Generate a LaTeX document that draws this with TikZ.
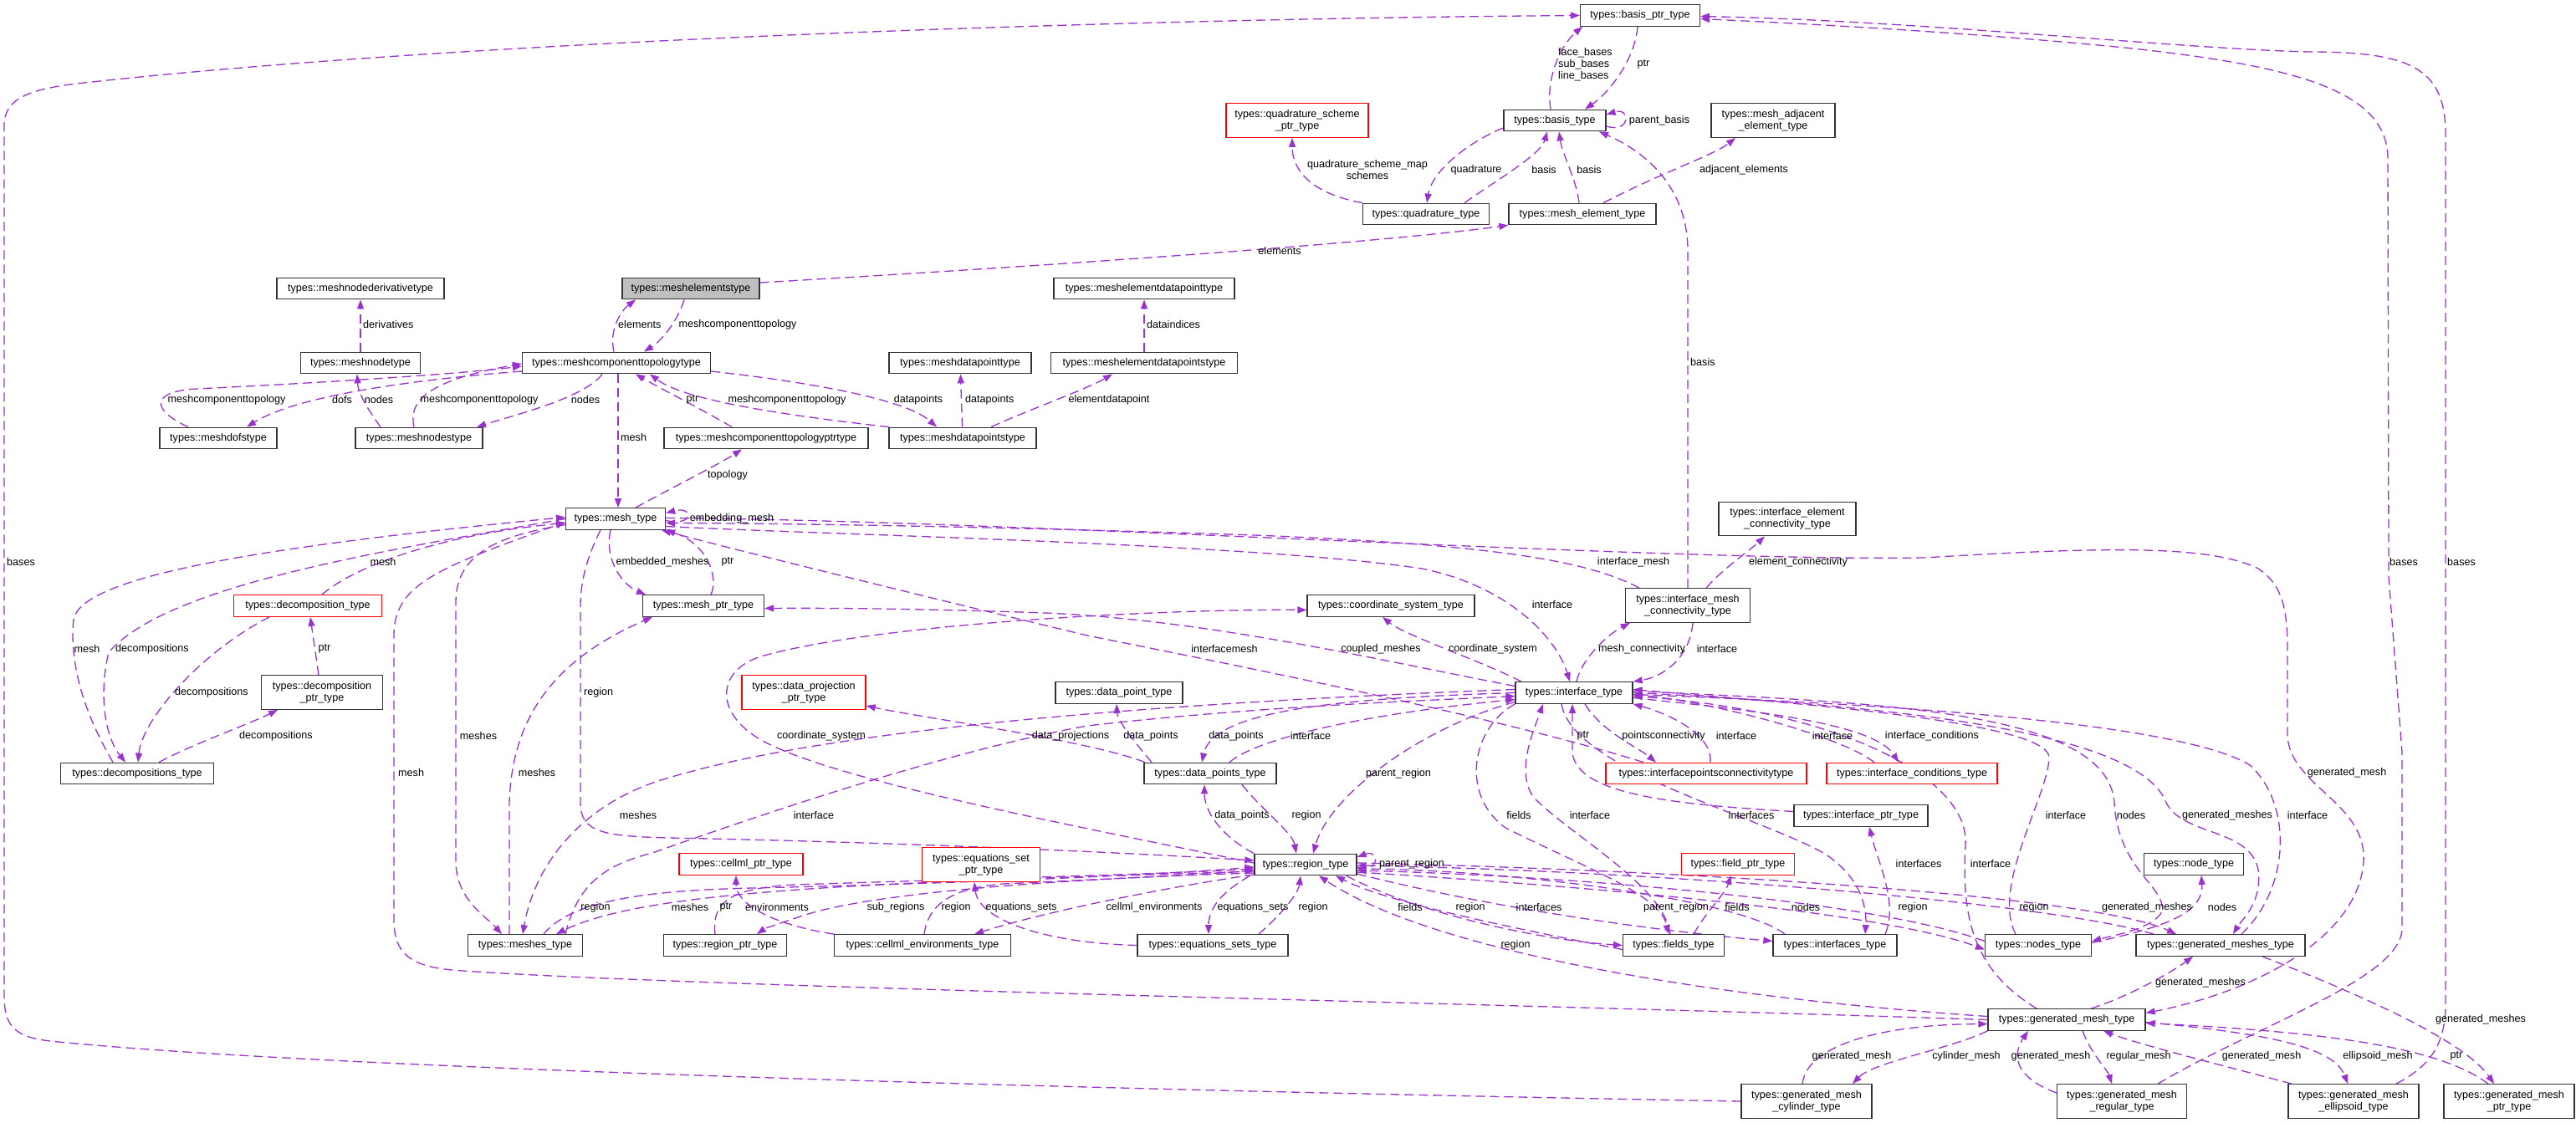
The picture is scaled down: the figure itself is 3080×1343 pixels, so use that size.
\documentclass[tikz,border=0pt]{standalone}
\usepackage{fontspec}
\setmainfont{Liberation Sans}
\usetikzlibrary{arrows.meta, backgrounds}
\definecolor{edgecol}{HTML}{9A32CD}
\definecolor{boxgray}{HTML}{BFBFBF}
\newcommand\dxfont{\fontsize{12.6}{14.3}\selectfont}

\begin{document}
\begin{tikzpicture}[x=1pt, y=-1pt,
  cls/.style={draw=black!80, line width=1.3pt, rectangle, fill=white, minimum height=25.5pt, inner xsep=6pt, inner ysep=2pt, align=center, font=\dxfont},
  cls2/.style={cls, minimum height=40.5pt},
  redbox/.style={draw=red},
  rel/.style={draw=edgecol, line width=1.3pt, dash pattern=on 11pt off 6pt, -{Triangle[length=11pt,width=8pt]}},
  lab/.style={font=\dxfont, inner sep=0pt}]
\useasboundingbox (0,0) rectangle (3080,1343);

\node[cls, minimum width=143] (bptr) at (1961,18.5) {types::basis\_ptr\_type};
\node[cls, minimum width=122] (basis) at (1859,144) {types::basis\_type};
\node[cls2, redbox, minimum width=170] (qsptr) at (1551,144) {types::quadrature\_scheme\\\_ptr\_type};
\node[cls2, minimum width=148] (madj) at (2120,144) {types::mesh\_adjacent\\\_element\_type};
\node[cls, minimum width=151] (quad) at (1705,256) {types::quadrature\_type};
\node[cls, minimum width=176] (melem) at (1892,256) {types::mesh\_element\_type};
\node[cls, fill=boxgray, minimum width=164] (mels) at (826,345) {types::meshelementstype};
\node[cls, minimum width=200] (mnderiv) at (431,345) {types::meshnodederivativetype};
\node[cls, minimum width=216] (medpt) at (1368,345) {types::meshelementdatapointtype};
\node[cls, minimum width=143] (mnode) at (431,434) {types::meshnodetype};
\node[cls, minimum width=225] (mct) at (737,434) {types::meshcomponenttopologytype};
\node[cls, minimum width=170] (mdpt) at (1148,434) {types::meshdatapointtype};
\node[cls, minimum width=223] (medps) at (1368,434) {types::meshelementdatapointstype};
\node[cls, minimum width=140] (mdofs) at (261,524) {types::meshdofstype};
\node[cls, minimum width=152] (mnodes) at (501,524) {types::meshnodestype};
\node[cls, minimum width=244] (mctptr) at (916,524) {types::meshcomponenttopologyptrtype};
\node[cls, minimum width=176] (mdps) at (1151,524) {types::meshdatapointstype};
\node[cls, minimum width=119] (mesh) at (736,620.5) {types::mesh\_type};
\node[cls2, minimum width=164] (iect) at (2137,620.5) {types::interface\_element\\\_connectivity\_type};
\node[cls, redbox, minimum width=177] (dcmp) at (368,724.5) {types::decomposition\_type};
\node[cls, minimum width=145] (meshptr) at (841,724.5) {types::mesh\_ptr\_type};
\node[cls, minimum width=200] (csys) at (1663,724.5) {types::coordinate\_system\_type};
\node[cls2, minimum width=149] (imct) at (2018,724) {types::interface\_mesh\\\_connectivity\_type};
\node[cls2, minimum width=145] (dcmpptr) at (385,828) {types::decomposition\\\_ptr\_type};
\node[cls2, redbox, minimum width=148] (dproj) at (961,828) {types::data\_projection\\\_ptr\_type};
\node[cls, minimum width=152] (dpoint) at (1338,828.5) {types::data\_point\_type};
\node[cls, minimum width=140] (iface) at (1882,828.5) {types::interface\_type};
\node[cls, minimum width=183] (dcmps) at (164,925) {types::decompositions\_type};
\node[cls, minimum width=158] (dpoints) at (1447,925) {types::data\_points\_type};
\node[cls, redbox, minimum width=240] (ipconn) at (2040,925) {types::interfacepointsconnectivitytype};
\node[cls, redbox, minimum width=204] (icond) at (2286,925) {types::interface\_conditions\_type};
\node[cls, minimum width=160] (iptr) at (2225,975.5) {types::interface\_ptr\_type};
\node[cls, redbox, minimum width=148] (cellptr) at (886,1033.5) {types::cellml\_ptr\_type};
\node[cls2, redbox, minimum width=141] (eqsptr) at (1173,1034) {types::equations\_set\\\_ptr\_type};
\node[cls, minimum width=122] (region) at (1561,1034) {types::region\_type};
\node[cls, redbox, minimum width=135] (fptr) at (2078,1033.5) {types::field\_ptr\_type};
\node[cls, minimum width=119] (ndt) at (2623,1033.5) {types::node\_type};
\node[cls, minimum width=137] (meshes) at (628,1130.5) {types::meshes\_type};
\node[cls, minimum width=147] (regptr) at (867,1130.5) {types::region\_ptr\_type};
\node[cls, minimum width=211] (cellenv) at (1103,1130.5) {types::cellml\_environments\_type};
\node[cls, minimum width=180] (eqsets) at (1450,1130.5) {types::equations\_sets\_type};
\node[cls, minimum width=121] (fields) at (2001,1130.5) {types::fields\_type};
\node[cls, minimum width=148] (ifaces) at (2194,1130.5) {types::interfaces\_type};
\node[cls, minimum width=127] (nodes) at (2437,1130.5) {types::nodes\_type};
\node[cls, minimum width=202] (gmeshes) at (2655,1130.5) {types::generated\_meshes\_type};
\node[cls, minimum width=188] (gmesh) at (2471,1219.5) {types::generated\_mesh\_type};
\node[cls2, minimum width=156] (gcyl) at (2160,1317) {types::generated\_mesh\\\_cylinder\_type};
\node[cls2, minimum width=155] (greg) at (2537,1317) {types::generated\_mesh\\\_regular\_type};
\node[cls2, minimum width=156] (gell) at (2814,1317) {types::generated\_mesh\\\_ellipsoid\_type};
\node[cls2, minimum width=156] (gmptr) at (3000,1317) {types::generated\_mesh\\\_ptr\_type};

\begin{scope}[on background layer]
\fill[white] (0,0) rectangle (3080,1343);
\draw[rel] ([xshift=-5]basis.north) .. controls (1848,95) and (1865,55) .. ([xshift=-69]bptr.south);
\draw[rel] ([xshift=-3]bptr.south) .. controls (1955,70) and (1925,110) .. ([xshift=36]basis.north);
\draw[rel] ([yshift=-7]basis.east) .. controls (1950,160) and (1950,128) .. ([yshift=7]basis.east);
\draw[rel] ([xshift=46]quad.north) .. controls (1790,215) and (1842,185) .. ([xshift=-9]basis.south);
\draw[rel] ([yshift=-9]basis.west) .. controls (1755,170) and (1712,205) .. ([xshift=1]quad.north);
\draw[rel] ([xshift=-4]melem.north) .. controls (1885,215) and (1868,185) .. ([xshift=5]basis.south);
\draw[rel] (quad.north west) .. controls (1570,232) and (1545,205) .. ([xshift=-6]qsptr.south);
\draw[rel] ([xshift=25]melem.north) .. controls (1990,205) and (2050,185) .. ([xshift=-45]madj.south);
\draw[rel] (imct.north) -- (2018,300) .. controls (2018,230) and (1975,185) .. ([xshift=53]basis.south);
\draw[rel] ([yshift=7]mels.east) .. controls (1300,315) and (1650,290) .. (melem.south west);
\draw[rel] (gcyl.west) .. controls (1400,1305) and (400,1280) .. (60,1245) .. controls (15,1240) and (5,1225) .. (5,1190) -- (5,150) .. controls (5,115) and (40,105) .. (110,98) .. controls (600,45) and (1400,22) .. (bptr.west);
\draw[rel] ([xshift=43]greg.north) .. controls (2700,1225) and (2872,1170) .. (2872,1110) -- (2872,900) -- (2856,690) -- (2855,190) .. controls (2855,110) and (2750,80) .. (2550,58) .. controls (2350,38) and (2150,28) .. ([yshift=-4]bptr.east);
\draw[rel] ([xshift=51]gell.north) .. controls (2905,1275) and (2924,1250) .. (2924,1200) -- (2924,160) .. controls (2924,80) and (2880,62) .. (2760,62) .. controls (2600,58) and (2300,25) .. ([yshift=-1]bptr.east);

\draw[rel] (mnode) -- (mnderiv);
\draw[rel] ([xshift=-3]mct.north) .. controls (728,395) and (742,372) .. ([xshift=-66]mels.south);
\draw[rel] ([xshift=-8]mels.south) .. controls (810,385) and (790,408) .. ([xshift=33]mct.north);
\draw[rel] (medps) -- (medpt);
\draw[rel] ([yshift=-10]mct.west) .. controls (520,452) and (360,470) .. ([xshift=34]mdofs.north);
\draw[rel] ([xshift=-36]mdofs.north) .. controls (180,490) and (180,468) .. (235,465) .. controls (400,457) and (550,447) .. ([yshift=-4]mct.west);
\draw[rel] ([xshift=-46]mnodes.north) .. controls (440,490) and (428,470) .. ([xshift=-4]mnode.south);
\draw[rel] ([xshift=-6]mnodes.north) .. controls (488,480) and (510,455) .. ([yshift=-1]mct.west);
\draw[rel] ([xshift=-17]mct.south) .. controls (700,475) and (620,495) .. ([xshift=69]mnodes.north);
\draw[rel] ([xshift=2]mct.south) -- ([xshift=3]mesh.north);
\draw[rel] ([xshift=-41]mctptr.north) .. controls (840,490) and (785,462) .. ([xshift=23]mct.south);
\draw[rel] ([xshift=-88]mdps.north) .. controls (950,498) and (820,480) .. ([xshift=40]mct.south);
\draw[rel] ([yshift=-10]mct.east) .. controls (950,455) and (1080,475) .. ([xshift=-31]mdps.north);
\draw[rel] (mdps) -- (mdpt);
\draw[rel] ([xshift=34]mdps.north) .. controls (1230,490) and (1300,465) .. ([xshift=-38]medps.south);
\draw[rel] ([xshift=24]mesh.north) .. controls (800,585) and (860,555) .. ([xshift=-29]mctptr.south);
\draw[rel] ([yshift=-2]mesh.east) .. controls (830,630) and (830,605) .. ([yshift=7]mesh.east);
\draw[rel] ([xshift=-6]mesh.south) .. controls (722,670) and (745,700) .. ([xshift=-69]meshptr.north);
\draw[rel] ([xshift=9]meshptr.north) .. controls (860,690) and (845,650) .. (mesh.south east);
\draw[rel] ([xshift=17]dcmp.north) .. controls (420,680) and (520,640) .. ([yshift=-5]mesh.west);
\draw[rel] ([xshift=-29]dcmps.north) .. controls (105,860) and (82,800) .. (88,740) .. controls (100,690) and (300,655) .. ([yshift=2]mesh.west);
\draw[rel] (mesh.west) .. controls (450,660) and (200,700) .. (130,780) .. controls (118,830) and (125,880) .. ([xshift=-14]dcmps.north);
\draw[rel] ([xshift=-46]dcmp.south) .. controls (240,780) and (170,860) .. ([xshift=1]dcmps.north);
\draw[rel] ([xshift=-4]dcmpptr.north) -- ([xshift=3]dcmp.south);
\draw[rel] ([xshift=26]dcmps.north) .. controls (230,890) and (300,865) .. ([xshift=-53]dcmpptr.south);
\draw[rel] ([yshift=-7]mesh.west) .. controls (600,640) and (545,660) .. (545,720) -- (545,1030) .. controls (545,1075) and (580,1095) .. ([xshift=-28]meshes.north);
\draw[rel] (gmesh.west) .. controls (1800,1200) and (800,1180) .. (540,1160) .. controls (490,1155) and (471,1140) .. (471,1100) -- (471,760) .. controls (471,700) and (520,680) .. ([yshift=-4]mesh.west);
\draw[rel] ([xshift=-19]meshes.north) -- (609,960) .. controls (612,860) and (660,790) .. ([xshift=-61]meshptr.south);
\draw[rel] ([xshift=-18]mesh.south) .. controls (705,660) and (694,690) .. (694,725) -- (694,960) .. controls (694,995) and (720,1000) .. (800,1002) .. controls (1100,1008) and (1350,1020) .. ([yshift=5]region.west);

\draw[rel] ([yshift=-8]region.west) .. controls (1100,1055) and (780,1060) .. ([xshift=37]meshes.north);
\draw[rel] ([xshift=22]meshes.north) .. controls (680,1080) and (760,1065) .. (900,1062) .. controls (1200,1055) and (1400,1045) .. ([yshift=-3]region.west);
\draw[rel] ([xshift=48]meshes.north) .. controls (690,1060) and (720,1035) .. (780,1020) .. controls (950,960) and (1150,895) .. (1300,868) .. controls (1500,845) and (1700,838) .. ([yshift=-4]iface.west);
\draw[rel] ([yshift=4]iface.west) .. controls (1400,840) and (1000,870) .. (800,930) .. controls (700,958) and (640,1030) .. ([xshift=-3]meshes.north);
\draw[rel] ([xshift=-12]regptr.north) .. controls (850,1075) and (880,1062) .. (950,1058) .. controls (1200,1050) and (1400,1045) .. ([yshift=-5]region.west);
\draw[rel] (cellenv.north west) .. controls (920,1105) and (880,1080) .. ([xshift=-6]cellptr.south);
\draw[rel] ([yshift=-10]region.west) .. controls (1300,1050) and (1050,1065) .. (960,1095) .. controls (930,1105) and (915,1110) .. ([xshift=38]regptr.north);
\draw[rel] ([xshift=2]cellenv.north) .. controls (1110,1080) and (1140,1062) .. (1200,1057) .. controls (1350,1050) and (1450,1045) .. ([yshift=-7]region.west);
\draw[rel] (eqsets.west) .. controls (1250,1128) and (1170,1100) .. ([xshift=-8]eqsptr.south);
\draw[rel] ([yshift=-12]region.west) .. controls (1400,1060) and (1250,1090) .. ([xshift=62]cellenv.north);
\draw[rel] ([xshift=-5]region.south west) .. controls (1455,1070) and (1445,1090) .. ([xshift=-5]eqsets.north);
\draw[rel] ([xshift=55]eqsets.north) .. controls (1530,1095) and (1552,1070) .. ([xshift=-6]region.south);
\draw[rel] ([xshift=49]region.south) .. controls (1700,1095) and (1850,1125) .. (fields.west);
\draw[rel] ([yshift=-5]fields.west) .. controls (1820,1112) and (1660,1080) .. ([xshift=36]region.south);
\draw[rel] ([yshift=-11]region.east) .. controls (1800,1090) and (2000,1115) .. ([yshift=5]ifaces.west);
\draw[rel] ([xshift=-60]ifaces.north) .. controls (2080,1075) and (1800,1040) .. ([yshift=-5]region.east);
\draw[rel] ([xshift=24]fields.north) .. controls (2040,1090) and (2062,1070) .. ([xshift=-8]fptr.south);
\draw[rel] ([xshift=-4]fields.north) .. controls (1990,1060) and (1880,1000) .. (1835,955) .. controls (1810,925) and (1835,870) .. ([xshift=-37]iface.south);
\draw[rel] (iface.south west) .. controls (1760,870) and (1745,950) .. (1800,990) .. controls (1900,1040) and (1985,1070) .. ([xshift=-6]fields.north);
\draw[rel] ([xshift=-15]iface.south) .. controls (1880,920) and (2100,975) .. (2180,1020) .. controls (2228,1050) and (2232,1090) .. ([xshift=36]ifaces.north);
\draw[rel] ([xshift=60]ifaces.north) .. controls (2270,1080) and (2245,1030) .. ([xshift=10]iptr.south);
\draw[rel] ([yshift=5]iptr.west) .. controls (2000,962) and (1885,950) .. (1880,900) -- ([xshift=-2]iface.south);
\draw[rel] ([xshift=13]iface.south) .. controls (1915,875) and (1960,895) .. ([xshift=-60]ipconn.north);
\draw[rel] ([xshift=5]ipconn.north) .. controls (2048,880) and (2000,855) .. (iface.south east);
\draw[rel] ([yshift=-6]iface.east) .. controls (2100,850) and (2240,865) .. ([xshift=-16]icond.north);
\draw[rel] ([xshift=-45]icond.north) .. controls (2200,880) and (2050,840) .. ([yshift=-2]iface.east);
\draw[rel] ([xshift=23]dpoints.north) .. controls (1500,885) and (1620,855) .. ([yshift=-8]iface.west);
\draw[rel] (iface.west) .. controls (1600,835) and (1450,850) .. ([xshift=-10]dpoints.north);
\draw[rel] ([xshift=-70]dpoints.north) .. controls (1350,880) and (1336,860) .. ([xshift=-3]dpoint.south);
\draw[rel] ([xshift=-78]dpoints.north) .. controls (1300,885) and (1100,858) .. ([yshift=-16]dproj.east);
\draw[rel] (region.north west) .. controls (1460,1000) and (1440,970) .. ([xshift=-7]dpoints.south);
\draw[rel] ([xshift=38]dpoints.south) .. controls (1510,970) and (1545,995) .. ([xshift=-11]region.north);
\draw[rel] ([yshift=-11]iface.west) .. controls (1700,870) and (1590,950) .. ([xshift=9]region.north);
\draw[rel] ([yshift=-3]region.east) .. controls (1650,1045) and (1650,1015) .. ([yshift=9]region.east);
\draw[rel] ([yshift=2]region.west) .. controls (1300,990) and (1000,935) .. (910,885) .. controls (850,850) and (860,800) .. (910,785) .. controls (1050,745) and (1400,728) .. ([yshift=-5]csys.west);
\draw[rel] ([xshift=-63]iface.north) .. controls (1770,790) and (1680,760) .. ([xshift=-10]csys.south);
\draw[rel] ([yshift=8]iface.west) .. controls (1650,790) and (1450,742) .. (1250,733) .. controls (1100,728) and (1000,727) .. ([yshift=-3]meshptr.east);
\draw[rel] ([xshift=-75]ipconn.north) .. controls (1800,860) and (1500,800) .. (1300,760) .. controls (1050,700) and (850,650) .. ([xshift=55]mesh.south);
\draw[rel] ([yshift=-9]mesh.east) .. controls (1000,640) and (1500,650) .. (1700,680) .. controls (1800,700) and (1860,760) .. ([xshift=-5]iface.north);
\draw[rel] ([xshift=-58]imct.north) .. controls (1900,672) and (1800,652) .. (1500,640) .. controls (1200,630) and (950,626) .. ([yshift=-5]mesh.east);
\draw[rel] ([yshift=1]mesh.east) .. controls (1200,622) and (2000,672) .. (2300,667) .. controls (2500,655) and (2640,650) .. (2700,680) .. controls (2730,700) and (2735,730) .. (2735,780) -- (2735,880) .. controls (2738,940) and (2830,960) .. (2826,1030) .. controls (2820,1120) and (2700,1185) .. ([yshift=8]gmesh.east);
\draw[rel] ([xshift=22]imct.north) .. controls (2060,680) and (2090,660) .. ([xshift=-27]iect.south);
\draw[rel] ([xshift=3]iface.north) .. controls (1890,790) and (1920,760) .. ([xshift=6]imct.south west);
\draw[rel] ([xshift=6]imct.south) .. controls (2020,790) and (1985,810) .. (iface.north east);

\draw[rel] ([xshift=-27]nodes.north) .. controls (2380,1060) and (2450,950) .. (2450,905) .. controls (2445,860) and (2100,838) .. ([yshift=4]iface.east);
\draw[rel] ([yshift=2]iface.east) .. controls (2250,840) and (2520,850) .. (2528,960) .. controls (2532,1040) and (2590,1060) .. (2585,1090) .. controls (2575,1110) and (2530,1118) .. ([yshift=5]nodes.east);
\draw[rel] (iface.east) .. controls (2300,845) and (2560,880) .. (2590,960) .. controls (2610,1000) and (2690,990) .. (2700,1040) .. controls (2705,1080) and (2680,1100) .. ([xshift=15]gmeshes.north);
\draw[rel] ([xshift=25]gmeshes.north) .. controls (2740,1060) and (2740,960) .. (2690,915) .. controls (2600,860) and (2200,840) .. ([yshift=-2]iface.east);
\draw[rel] ([xshift=-36]gmesh.north) .. controls (2360,1160) and (2345,1100) .. (2350,1010) .. controls (2355,930) and (2200,850) .. ([yshift=-4]iface.east);
\draw[rel] ([yshift=-9]region.east) .. controls (1900,1060) and (2250,1090) .. ([yshift=-5]nodes.west);
\draw[rel] ([yshift=5]nodes.west) .. controls (2250,1080) and (1900,1048) .. ([yshift=-7]region.east);
\draw[rel] ([xshift=-80]gmeshes.north) .. controls (2450,1080) and (2000,1042) .. ([yshift=-1]region.east);
\draw[rel] ([yshift=2]region.east) .. controls (2000,1040) and (2500,1070) .. ([xshift=-53]gmeshes.north);
\draw[rel] ([yshift=3]nodes.east) .. controls (2580,1110) and (2635,1095) .. ([xshift=9]ndt.south);
\draw[rel] ([xshift=29]gmesh.north) .. controls (2550,1190) and (2600,1160) .. ([xshift=-33]gmeshes.south);
\draw[rel] ([xshift=50]gmeshes.south) .. controls (2850,1200) and (2950,1250) .. ([xshift=-18]gmptr.north);
\draw[rel] ([xshift=-25]gmptr.north) .. controls (2920,1255) and (2800,1235) .. ([yshift=-4]gmesh.east);
\draw[rel] (gmesh.south west) .. controls (2330,1255) and (2240,1270) .. ([xshift=55]gcyl.north);
\draw[rel] ([xshift=-5]gcyl.north) .. controls (2160,1250) and (2250,1225) .. ([yshift=-5]gmesh.west);
\draw[rel] ([yshift=10]greg.west) .. controls (2400,1285) and (2410,1255) .. ([xshift=-46]gmesh.south);
\draw[rel] ([xshift=19]gmesh.south) .. controls (2500,1260) and (2520,1280) .. ([xshift=-12]greg.north);
\draw[rel] ([xshift=-74]gell.north) .. controls (2680,1280) and (2560,1250) .. ([xshift=44]gmesh.south);
\draw[rel] ([yshift=-3]gmesh.east) .. controls (2700,1235) and (2790,1250) .. ([xshift=-7]gell.north);
\draw[rel] ([yshift=4]gmesh.west) .. controls (2000,1190) and (1700,1130) .. ([xshift=16]region.south);
\end{scope}

\node[lab, anchor=west, align=left] (lb1) at (1863,77) {face\_bases\\sub\_bases\\line\_bases};
\node[lab] (lb2) at (1965,77) {ptr};
\node[lab] (lb3) at (1984,144) {parent\_basis};
\node[lab] (lb4) at (1846,203) {basis};
\node[lab] (lb5) at (1765,203) {quadrature};
\node[lab] (lb6) at (1900,203) {basis};
\node[lab, align=center] (lb7) at (1635,203) {quadrature\_scheme\_map\\schemes};
\node[lab] (lb8) at (2085,203) {adjacent\_elements};
\node[lab, anchor=west] (lb9) at (2021,433) {basis};
\node[lab] (lb10) at (1530,300) {elements};
\node[lab, anchor=west] (lb11) at (8,672) {bases};
\node[lab, anchor=west] (lb12) at (2857,672) {bases};
\node[lab, anchor=west] (lb13) at (2926,672) {bases};
\node[lab, anchor=west] (lb14) at (434,388) {derivatives};
\node[lab, anchor=west] (lb15) at (739,388) {elements};
\node[lab] (lb16) at (882,388) {meshcomponenttopology};
\node[lab, anchor=west] (lb17) at (1371,388) {dataindices};
\node[lab] (lb18) at (409,478) {dofs};
\node[lab] (lb19) at (271,478) {meshcomponenttopology};
\node[lab] (lb20) at (453,478) {nodes};
\node[lab] (lb21) at (573,478) {meshcomponenttopology};
\node[lab] (lb22) at (700,478) {nodes};
\node[lab, anchor=west] (lb23) at (742,523) {mesh};
\node[lab] (lb24) at (828,478) {ptr};
\node[lab] (lb25) at (941,478) {meshcomponenttopology};
\node[lab] (lb26) at (1098,478) {datapoints};
\node[lab, anchor=west] (lb27) at (1154,478) {datapoints};
\node[lab] (lb28) at (1326,478) {elementdatapoint};
\node[lab] (lb29) at (870,568) {topology};
\node[lab] (lb30) at (875,620) {embedding\_mesh};
\node[lab] (lb31) at (792,672) {embedded\_meshes};
\node[lab] (lb32) at (870,672) {ptr};
\node[lab] (lb33) at (458,672) {mesh};
\node[lab] (lb34) at (104,776) {mesh};
\node[lab] (lb35) at (182,776) {decompositions};
\node[lab] (lb36) at (253,828) {decompositions};
\node[lab] (lb37) at (388,776) {ptr};
\node[lab] (lb38) at (330,880) {decompositions};
\node[lab] (lb39) at (572,880) {meshes};
\node[lab, anchor=west] (lb40) at (476,924) {mesh};
\node[lab] (lb41) at (642,924) {meshes};
\node[lab, anchor=west] (lb42) at (698,828) {region};
\node[lab] (lb43) at (825,1085) {meshes};
\node[lab] (lb44) at (712,1085) {region};
\node[lab] (lb45) at (973,975) {interface};
\node[lab] (lb46) at (763,975) {meshes};
\node[lab] (lb47) at (868,1085) {ptr};
\node[lab] (lb48) at (929,1085) {environments};
\node[lab] (lb49) at (1071,1085) {sub\_regions};
\node[lab] (lb50) at (1143,1085) {region};
\node[lab] (lb51) at (1221,1085) {equations\_sets};
\node[lab] (lb52) at (1380,1085) {cellml\_environments};
\node[lab] (lb53) at (1498,1085) {equations\_sets};
\node[lab] (lb54) at (1570,1085) {region};
\node[lab] (lb55) at (1686,1085) {fields};
\node[lab] (lb56) at (1758,1085) {region};
\node[lab] (lb57) at (1840,1085) {interfaces};
\node[lab] (lb58) at (2004,1085) {parent\_region};
\node[lab] (lb59) at (2077,1085) {fields};
\node[lab] (lb60) at (1901,975) {interface};
\node[lab] (lb61) at (1816,975) {fields};
\node[lab] (lb62) at (2094,975) {interfaces};
\node[lab] (lb63) at (2294,1033) {interfaces};
\node[lab] (lb64) at (1893,880) {ptr};
\node[lab] (lb65) at (1989,880) {pointsconnectivity};
\node[lab] (lb66) at (2076,880) {interface};
\node[lab] (lb67) at (2310,880) {interface\_conditions};
\node[lab] (lb68) at (2191,880) {interface};
\node[lab] (lb69) at (1567,880) {interface};
\node[lab] (lb70) at (1478,880) {data\_points};
\node[lab] (lb71) at (1376,880) {data\_points};
\node[lab] (lb72) at (1280,880) {data\_projections};
\node[lab] (lb73) at (1485,975) {data\_points};
\node[lab] (lb74) at (1562,975) {region};
\node[lab] (lb75) at (1672,925) {parent\_region};
\node[lab] (lb76) at (1688,1033) {parent\_region};
\node[lab] (lb77) at (982,880) {coordinate\_system};
\node[lab] (lb78) at (1785,776) {coordinate\_system};
\node[lab] (lb79) at (1651,776) {coupled\_meshes};
\node[lab] (lb80) at (1464,776) {interfacemesh};
\node[lab] (lb81) at (1856,723) {interface};
\node[lab] (lb82) at (1953,672) {interface\_mesh};
\node[lab] (lb83) at (2806,924) {generated\_mesh};
\node[lab] (lb84) at (2150,672) {element\_connectivity};
\node[lab] (lb85) at (1963,776) {mesh\_connectivity};
\node[lab] (lb86) at (2053,776) {interface};
\node[lab] (lb87) at (2470,975) {interface};
\node[lab] (lb88) at (2548,975) {nodes};
\node[lab] (lb89) at (2663,975) {generated\_meshes};
\node[lab] (lb90) at (2759,975) {interface};
\node[lab] (lb91) at (2380,1033) {interface};
\node[lab] (lb92) at (2159,1085) {nodes};
\node[lab] (lb93) at (2287,1085) {region};
\node[lab] (lb94) at (2432,1085) {region};
\node[lab] (lb95) at (2567,1085) {generated\_meshes};
\node[lab] (lb96) at (2657,1085) {nodes};
\node[lab] (lb97) at (2631,1175) {generated\_meshes};
\node[lab] (lb98) at (2966,1219) {generated\_meshes};
\node[lab] (lb99) at (2937,1263) {ptr};
\node[lab] (lb100) at (2351,1263) {cylinder\_mesh};
\node[lab] (lb101) at (2214,1263) {generated\_mesh};
\node[lab] (lb102) at (2452,1263) {generated\_mesh};
\node[lab] (lb103) at (2557,1263) {regular\_mesh};
\node[lab] (lb104) at (2704,1263) {generated\_mesh};
\node[lab] (lb105) at (2843,1263) {ellipsoid\_mesh};
\node[lab] (lb106) at (1812,1130) {region};
\end{tikzpicture}
\end{document}
